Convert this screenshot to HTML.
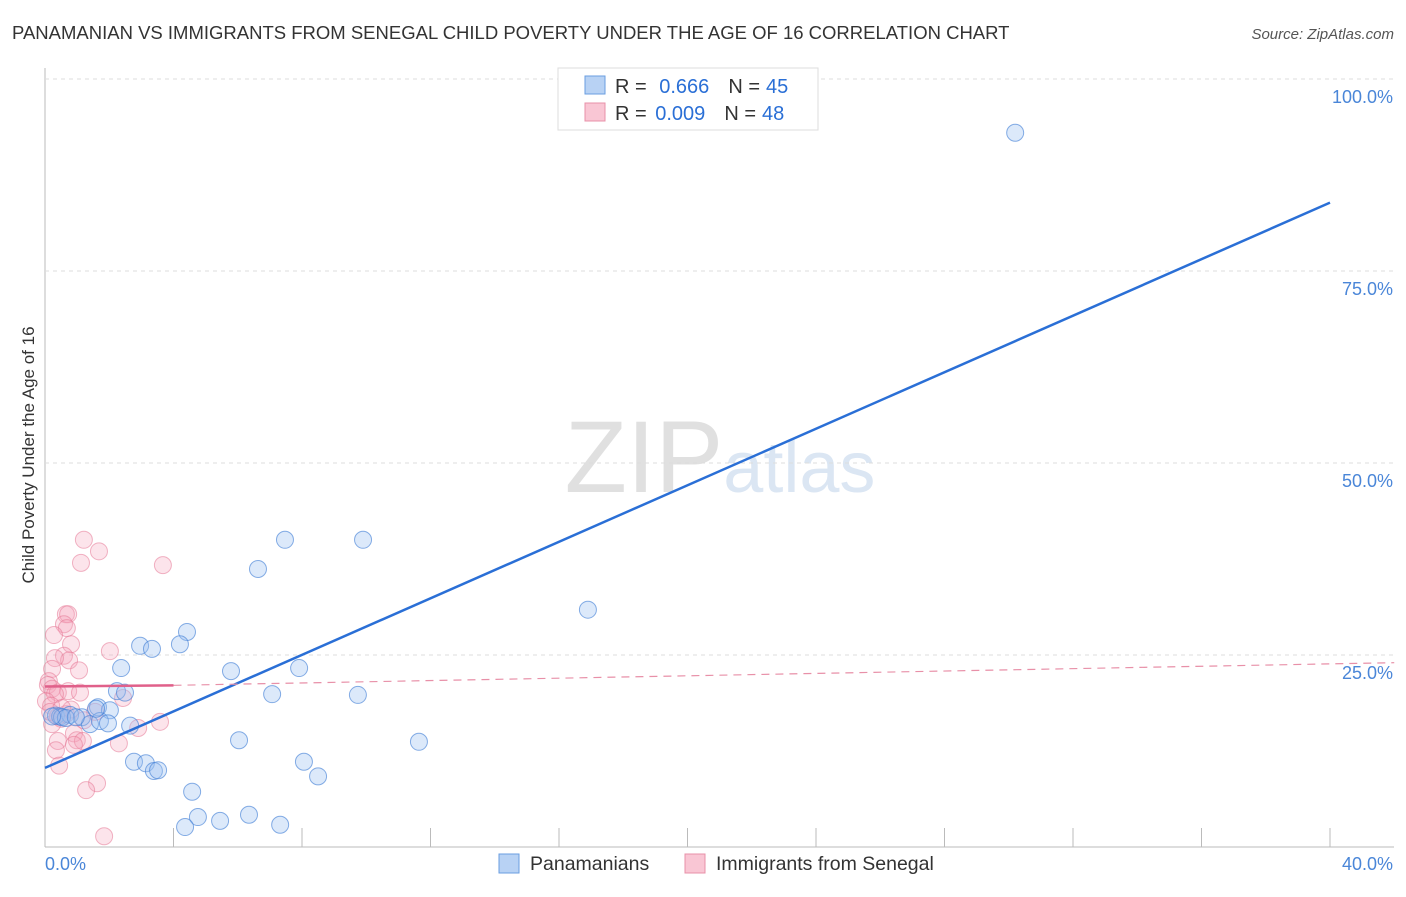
<!DOCTYPE html>
<html><head><meta charset="utf-8"><style>
body{margin:0;background:#fff;font-family:"Liberation Sans",sans-serif}
svg text{font-family:"Liberation Sans",sans-serif}
</style></head><body>
<svg id="c" width="1406" height="892" xmlns="http://www.w3.org/2000/svg">
<text x="12" y="39" font-size="18.5" fill="#333">PANAMANIAN VS IMMIGRANTS FROM SENEGAL CHILD POVERTY UNDER THE AGE OF 16 CORRELATION CHART</text>
<text x="1394" y="39" font-size="15" fill="#555" font-style="italic" text-anchor="end">Source: ZipAtlas.com</text>
<text x="720" y="492" font-size="102" fill="#e4e4e4" text-anchor="middle" font-family="Liberation Serif"><tspan fill="#e0e0e0">ZIP</tspan><tspan fill="#dbe6f3" font-family="Liberation Sans" font-size="72">atlas</tspan></text>
<text transform="translate(34,455) rotate(-90)" font-size="17" fill="#333" text-anchor="middle">Child Poverty Under the Age of 16</text>
<g id="grid"></g><g id="pts"></g><g id="lines"></g>
<g>
<rect x="558" y="68" width="260" height="62" fill="#fff" stroke="#ddd"/>
<rect x="585" y="76" width="20" height="18" fill="#b8d2f4" stroke="#6a9ee0"/>
<rect x="585" y="103" width="20" height="18" fill="#f9c6d4" stroke="#e890a8"/>
<text x="615" y="93" font-size="20" fill="#333">R = <tspan fill="#2a6fd6" dx="7">0.666</tspan><tspan fill="#333" dx="19">N =</tspan><tspan fill="#2a6fd6" dx="6">45</tspan></text>
<text x="615" y="120" font-size="20" fill="#333">R = <tspan fill="#2a6fd6" dx="3">0.009</tspan><tspan fill="#333" dx="19">N =</tspan><tspan fill="#2a6fd6" dx="6">48</tspan></text>
</g>
<g>
<rect x="499" y="854" width="20" height="19" fill="#b8d2f4" stroke="#6a9ee0"/>
<text x="530" y="870" font-size="19.5" fill="#333">Panamanians</text>
<rect x="685" y="854" width="20" height="19" fill="#f9c6d4" stroke="#e890a8"/>
<text x="716" y="870" font-size="19.5" fill="#333">Immigrants from Senegal</text>
</g>
</svg>
<script>
const yTicks=[25,50,75,100];
const yTickLabels=["25.0%","50.0%","75.0%","100.0%"];
const xTicks=[0,4,8,12,16,20,24,28,32,36,40];
const bluePts=[[30.2,93.0],[16.9,30.9],[9.9,40.0],[7.47,40.0],[6.63,36.2],[4.42,28.0],[4.2,26.4],[2.96,26.2],[3.33,25.8],[2.37,23.3],[5.79,22.9],[7.91,23.3],[2.24,20.3],[2.49,20.1],[7.07,19.9],[9.74,19.8],[0.34,17.1],[0.47,17.0],[0.78,17.2],[1.65,18.2],[2.02,17.8],[1.15,16.9],[1.4,16.0],[1.71,16.4],[1.96,16.1],[2.65,15.8],[6.04,13.9],[11.64,13.7],[2.77,11.1],[3.14,10.9],[3.39,9.9],[3.52,10.0],[8.06,11.1],[8.5,9.2],[4.58,7.2],[4.76,3.9],[4.36,2.6],[5.45,3.4],[6.35,4.2],[7.32,2.9],[0.53,16.9],[0.65,16.8],[0.22,17.0],[0.96,16.9],[1.59,18.0]];
const pinkPts=[[1.21,40.0],[1.68,38.5],[1.12,37.0],[3.67,36.7],[0.65,30.3],[0.72,30.3],[0.59,29.0],[0.68,28.5],[0.28,27.6],[0.81,26.4],[2.02,25.5],[0.59,24.9],[0.75,24.3],[0.31,24.6],[1.06,23.0],[0.22,23.2],[0.12,21.6],[0.09,21.1],[0.22,20.6],[0.4,20.1],[0.72,20.3],[1.09,20.1],[0.31,19.9],[2.43,19.4],[0.03,19.0],[0.19,18.4],[0.5,16.7],[0.22,16.0],[1.56,17.6],[0.4,17.0],[0.65,17.3],[0.81,17.9],[3.58,16.3],[2.9,15.5],[0.9,14.8],[0.99,13.9],[1.18,13.8],[0.4,13.8],[0.34,12.6],[2.3,13.5],[0.9,13.3],[0.44,10.6],[1.62,8.3],[1.28,7.4],[1.84,1.4],[0.16,17.6],[0.53,18.1],[1.21,16.5]];
const blueFit=[[0,10.3],[40,83.9]];
const pinkFit=[[0,20.9],[4,21.05],[42,24.0]];
const X=v=>45+v*32.125, Y=v=>847-v*7.68;
const ns="http://www.w3.org/2000/svg";
function mk(t,a,p){const e=document.createElementNS(ns,t);for(const k in a)e.setAttribute(k,a[k]);p.appendChild(e);return e;}
const g=document.getElementById('grid');
const ax=mk('line',{x1:45,y1:68,x2:45,y2:847,stroke:'#bbb'},g);


const bx=mk('line',{x1:45,y1:847,x2:1394,y2:847,stroke:'#bbb'},g);


yTicks.forEach((t,i)=>{
 const l=mk('line',{x1:45,y1:Y(t),x2:1394,y2:Y(t),stroke:'#ddd','stroke-dasharray':'4,4'},g);
 
 
 const tx=mk('text',{x:1393,y:Y(t)+24,'font-size':18,fill:'#4a86d8','text-anchor':'end'},g);
 tx.textContent=yTickLabels[i];
 
 
});
xTicks.forEach(t=>{
 const l=mk('line',{x1:X(t),y1:828,x2:X(t),y2:847,stroke:'#bbb'},g);
 
 
});
const xl0=mk('text',{x:45,y:870,'font-size':18,fill:'#4a86d8'},g);xl0.textContent="0.0%";


const xl1=mk('text',{x:1393,y:870,'font-size':18,fill:'#4a86d8','text-anchor':'end'},g);xl1.textContent="40.0%";


const p=document.getElementById('pts');
pinkPts.forEach(d=>{const c=mk('circle',{cx:X(d[0]),cy:Y(d[1]),r:8.5,fill:'rgba(245,165,190,0.3)',stroke:'rgba(230,120,150,0.55)','stroke-width':1},p);
 
 });
bluePts.forEach(d=>{const c=mk('circle',{cx:X(d[0]),cy:Y(d[1]),r:8.5,fill:'rgba(155,192,240,0.35)',stroke:'rgba(70,130,215,0.65)','stroke-width':1},p);
 
 });
const L=document.getElementById('lines');
const bl=mk('line',{x1:X(blueFit[0][0]),y1:Y(blueFit[0][1]),x2:X(blueFit[1][0]),y2:Y(blueFit[1][1]),stroke:'#2a6fd6','stroke-width':2.5},L);


const ps=mk('line',{x1:X(pinkFit[0][0]),y1:Y(pinkFit[0][1]),x2:X(pinkFit[1][0]),y2:Y(pinkFit[1][1]),stroke:'#e0608a','stroke-width':2.5},L);


const pd=mk('line',{x1:X(pinkFit[1][0]),y1:Y(pinkFit[1][1]),x2:X(pinkFit[2][0]),y2:Y(pinkFit[2][1]),stroke:'#e890a8','stroke-width':1.2,'stroke-dasharray':'8,6'},L);


</script>
</body></html>
